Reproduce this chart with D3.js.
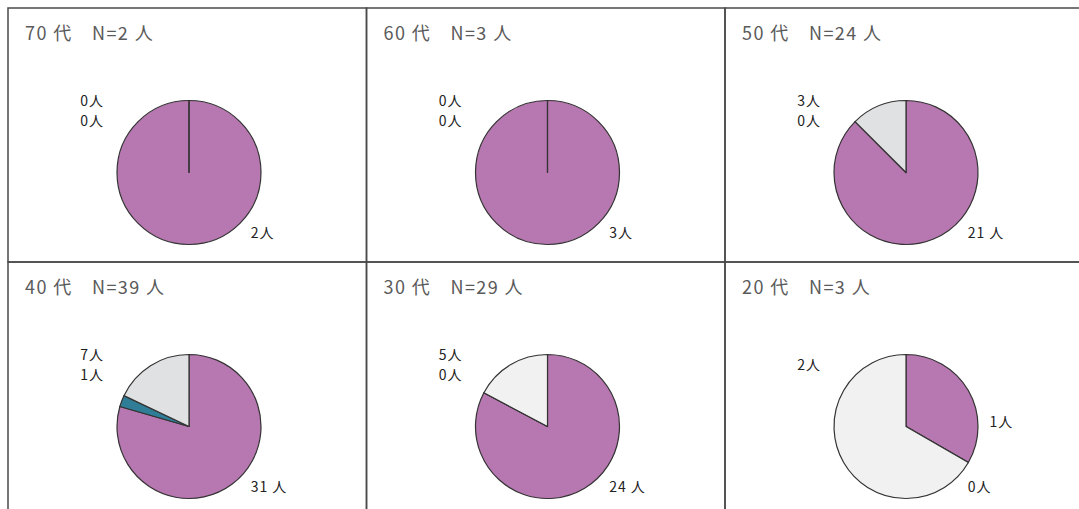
<!DOCTYPE html>
<html>
<head>
<meta charset="utf-8">
<script src="https://cdn.jsdelivr.net/npm/d3@7"></script>
<style>
  html, body { margin: 0; padding: 0; background: #fff; }
  svg { display: block; }
  text { font-family: "Noto Sans CJK JP", "Noto Sans", sans-serif; }
</style>
</head>
<body>
<svg id="svg" width="1079" height="509"></svg>
<script>
(function() {

// Data: one pie per age group
var ageGroups = ['70', '60', '50', '40', '30', '20'];
var totals    = [2, 3, 24, 39, 29, 3];
var seriesA   = [2, 3, 21, 31, 24, 1];   // purple
var seriesB   = [0, 0, 0, 1, 0, 0];      // teal
var seriesC   = [0, 0, 3, 7, 5, 2];      // grey

// Styles
var fillA = '#b777b0';
var fillB = '#2f7d96';
var fillC = ['#e0e1e3', '#e0e1e3', '#e0e1e3', '#e0e1e3', '#f1f1f1', '#f1f1f1'];
var radius = 72;

var svg = d3.select('#svg');

var col = d3.scaleBand().domain([0, 1, 2]).range([8, 8 + 3 * 358.5]);
var row = d3.scaleBand().domain([0, 1]).range([8, 8 + 2 * 254]);

var pie = d3.pie().sort(null).value(d => d.value);
var arc = d3.arc().innerRadius(0).outerRadius(radius);

var panels = ageGroups.map((age, i) => ({
  age: age,
  total: totals[i],
  col: i % 3,
  row: Math.floor(i / 3),
  slices: [
    {key: 'A', value: seriesA[i], fill: fillA, order: 2},
    {key: 'B', value: seriesB[i], fill: fillB, order: 1},
    {key: 'C', value: seriesC[i], fill: fillC[i], order: 0}
  ]
}));

// panel frames
svg.append('g').selectAll('rect')
  .data(panels).enter().append('rect')
    .attr('x', d => col(d.col))
    .attr('y', d => row(d.row))
    .attr('width', col.bandwidth())
    .attr('height', row.bandwidth())
    .attr('fill', 'none')
    .attr('stroke', '#4a4a4a')
    .attr('stroke-width', 1.5);

var g = svg.selectAll('g.panel')
  .data(panels).enter().append('g')
    .attr('class', 'panel')
    .attr('transform', d => 'translate(' + col(d.col) + ',' + row(d.row) + ')');

g.append('text')
    .attr('x', 17)
    .attr('y', 32)
    .attr('fill', '#5a5a5a')
    .attr('font-size', 18)
    .attr('letter-spacing', 1.4)
    .text(d => d.age + ' 代\u3000N=' + d.total + ' 人');

var pies = g.append('g')
    .attr('transform', 'translate(181,164.5)');

pies.selectAll('path')
  .data(d => pie(d.slices)).enter().append('path')
    .attr('d', arc)
    .attr('fill', d => d.data.fill)
    .attr('stroke', '#333')
    .attr('stroke-width', 1.2)
    .attr('stroke-linejoin', 'round');

// labels: right-hand slices beside the pie, left-hand ones stacked at top left
function labelText(v) {
  return v >= 10 ? v + ' 人' : v + '人';
}

pies.each(function(p) {
  var arcs = pie(p.slices);
  var sel = d3.select(this);
  var left = [];
  arcs.forEach(a => {
    var mid = (a.startAngle + a.endAngle) / 2;
    if (mid <= Math.PI + 1e-6) {
      var ang = mid < Math.PI * 0.55 ? Math.PI * 87 / 180 : Math.PI * 130 / 180;
      var r = radius * 1.3;
      sel.append('text')
        .attr('x', Math.sin(ang) * r - 10)
        .attr('y', -Math.cos(ang) * r)
        .attr('dy', '0.35em')
        .attr('font-size', 14)
        .attr('letter-spacing', 1)
        .attr('fill', '#222')
        .text(labelText(a.data.value));
    } else {
      left.push(a);
    }
  });
  left.sort((a, b) => a.data.order - b.data.order);
  var y0 = -61 - (left.length - 1) * 10;
  left.forEach((a, k) => {
    sel.append('text')
      .attr('x', -85)
      .attr('y', y0 + k * 20)
      .attr('dy', '0.35em')
      .attr('text-anchor', 'end')
      .attr('font-size', 14)
      .attr('letter-spacing', 1)
      .attr('fill', '#222')
      .text(labelText(a.data.value));
  });
});

})();
</script>
</body>
</html>
